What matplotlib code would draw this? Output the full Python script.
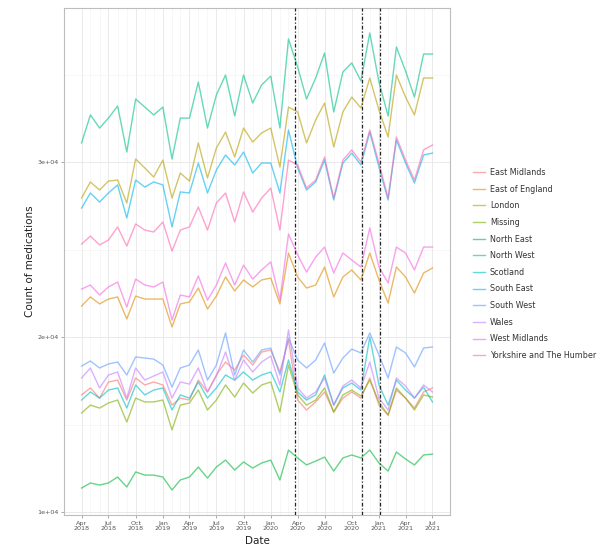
import matplotlib
matplotlib.use("Agg")
import matplotlib.pyplot as plt
import pandas as pd

dates = pd.date_range("2018-04-01", periods=40, freq="MS")

regions = ["East Midlands", "East of England", "London", "Missing", "North East",
           "North West", "Scotland", "South East", "South West", "Wales",
           "West Midlands", "Yorkshire and The Humber"]
colors = ["#F8766D", "#DE8C00", "#B79F00", "#7CAE00", "#00BA38", "#00C08B",
          "#00BFC4", "#00B4F0", "#619CFF", "#C77CFF", "#F564E3", "#FF64B0"]

north_west = [31090, 32690, 31940, 32510, 33200, 30570, 33600, 33140, 32690, 33140,
              30170, 32510, 32510, 34570, 31940, 33830, 34970, 32630, 34970, 33370,
              34400, 34910, 31940, 37030, 35430, 33600, 34800, 36230, 32860, 35140,
              35660, 34630, 37370, 34570, 32630, 36570, 35200, 33710, 36170, 36170]
london = [27940, 28860, 28400, 28910, 28970, 27660, 30170, 29660, 29140, 30110,
          27940, 29370, 28910, 31090, 29090, 30800, 31710, 30290, 31940, 31140,
          31660, 31940, 29710, 33140, 32860, 31090, 32400, 33370, 30860, 32860,
          33710, 33090, 34800, 32970, 31430, 34970, 33710, 32690, 34800, 34800]
south_east = [27370, 28230, 27710, 28230, 28690, 26800, 28970, 28570, 28860, 28690,
              26290, 28290, 28230, 29940, 28230, 29540, 30400, 29830, 30570, 29370,
              29940, 29940, 28230, 31830, 29660, 28400, 28860, 30110, 27830, 29940,
              30510, 29830, 31710, 29710, 27830, 31260, 29940, 28800, 30400, 30510]
yorkshire = [25310, 25770, 25260, 25540, 26290, 25200, 26460, 26110, 26000, 26570,
             24910, 26110, 26290, 27430, 26110, 27660, 28230, 26570, 28290, 27140,
             27940, 28510, 26110, 30110, 29830, 28510, 28970, 30290, 27940, 30110,
             30690, 30000, 31830, 29940, 27940, 31430, 30110, 28970, 30690, 30970]
west_midlands = [22740, 22970, 22400, 22860, 23140, 21710, 23310, 22970, 22860, 23140,
                 20970, 22400, 22290, 23490, 22110, 22970, 24230, 22970, 24110, 23310,
                 23830, 24290, 22110, 25890, 24690, 23710, 24570, 25140, 23660, 24800,
                 24400, 24000, 26230, 24000, 23090, 25140, 24800, 23830, 25140, 25140]
east_of_england = [21770, 22290, 21890, 22170, 22290, 21030, 22340, 22170, 22170, 22170,
                   20570, 21890, 22000, 22800, 21600, 22340, 23430, 22630, 23260, 22860,
                   23260, 23370, 21890, 24800, 23430, 22800, 22970, 24000, 22290, 23430,
                   23830, 23260, 24800, 23260, 21940, 24000, 23430, 22510, 23660, 23940]
south_west = [18340, 18630, 18230, 18460, 18570, 17830, 18860, 18800, 18740, 18400,
              17140, 18230, 18400, 19260, 17540, 18400, 20230, 17830, 19260, 18570,
              19260, 19370, 17830, 19940, 18690, 18230, 18690, 19660, 17940, 18800,
              19310, 19090, 20230, 18970, 17660, 19430, 19090, 18290, 19370, 19430]
wales = [17660, 18230, 17090, 17830, 18000, 16510, 18230, 17540, 17770, 18000,
         16510, 17430, 17310, 18230, 16860, 17770, 19140, 17540, 18690, 18000,
         18570, 18910, 17260, 20400, 17090, 16510, 16860, 17660, 16110, 17200,
         17540, 17090, 18570, 16510, 15830, 17660, 17200, 16510, 17260, 16860]
east_midlands = [16690, 17090, 16510, 17430, 17540, 16400, 17660, 17260, 17430, 17260,
                 16110, 16510, 16400, 17540, 16860, 17830, 18570, 18110, 18970, 18400,
                 19140, 19260, 18000, 19830, 16400, 15830, 16290, 16860, 15710, 16510,
                 16860, 16510, 17660, 16110, 15540, 16970, 16510, 15940, 16860, 17090]
scotland = [16400, 16860, 16510, 16970, 17090, 15940, 17260, 16690, 16970, 17090,
            15830, 16690, 16510, 17430, 16510, 17090, 17830, 17540, 18000, 17540,
            17830, 18000, 16860, 18690, 16860, 16400, 16690, 17830, 16110, 17090,
            17370, 16970, 20000, 17260, 16110, 17540, 16970, 16510, 17140, 16290]
missing = [15660, 16110, 15940, 16230, 16400, 15140, 16510, 16290, 16290, 16400,
           14690, 16110, 16230, 16970, 15830, 16400, 17260, 16570, 17370, 16800,
           17260, 17430, 15710, 18400, 16690, 16110, 16400, 17090, 15710, 16690,
           16970, 16630, 17540, 16290, 15540, 17090, 16510, 15830, 16690, 16570]
north_east = [11370, 11660, 11540, 11660, 12000, 11430, 12290, 12110, 12110, 12000,
              11260, 11830, 12000, 12570, 11940, 12570, 12970, 12400, 12860, 12510,
              12800, 12970, 11830, 13540, 13090, 12690, 12910, 13140, 12340, 13090,
              13260, 13090, 13540, 12800, 12340, 13430, 13030, 12690, 13260, 13310]

series = {
    "East Midlands": east_midlands, "East of England": east_of_england,
    "London": london, "Missing": missing, "North East": north_east,
    "North West": north_west, "Scotland": scotland, "South East": south_east,
    "South West": south_west, "Wales": wales, "West Midlands": west_midlands,
    "Yorkshire and The Humber": yorkshire,
}

lockdowns = pd.to_datetime(["2020-03-23", "2020-11-05", "2021-01-06"])
y_ticks = [10000, 20000, 30000]
y_labels = ["1e+04", "2e+04", "3e+04"]

fig = plt.figure(figsize=(6.15, 5.5), dpi=100)
ax = fig.add_axes([64/615, 1-515/550, (450-64)/615, (515-8)/550])

handles = []
for name, col in zip(regions, colors):
    h, = ax.plot(dates, series[name], color=col, lw=1.0, alpha=0.6, label=name)
    handles.append(h)

for d in lockdowns:
    ax.axvline(d, color="#222222", lw=0.9, linestyle=(0, (3, 1.6, 1, 1.6)), zorder=5)

ax.set_ylim(9830, 38800)
ax.set_yticks(y_ticks)
ax.set_yticklabels(y_labels)
ax.set_yticks([15000, 25000, 35000], minor=True)

xt = pd.date_range("2018-04-01", "2021-07-01", freq="3MS")
ax.set_xticks(xt)
ax.set_xticklabels([d.strftime("%b\n%Y") for d in xt])
ax.set_xticks(dates, minor=True)

ax.grid(True, which="major", color="#e6e6e6", lw=0.6)
ax.grid(True, which="minor", color="#f2f2f2", lw=0.4)
ax.set_axisbelow(True)
for s in ax.spines.values():
    s.set_color("#bdbdbd")
    s.set_linewidth(0.8)
ax.tick_params(which="major", length=2.5, width=0.5, color="#888888",
               labelsize=4.6, labelcolor="#555555", pad=1.5)
ax.tick_params(which="minor", length=0)
ax.set_xlabel("Date", fontsize=7.5, color="#222222", labelpad=3)
ax.set_ylabel("Count of medications", fontsize=7.5, color="#222222", labelpad=1.5)

leg = fig.legend(handles=handles, loc="center left", bbox_to_anchor=(473/615, 1-264/550),
                 frameon=False, fontsize=5.8, handlelength=1.5, handletextpad=0.6,
                 labelspacing=0.95, borderpad=0, borderaxespad=0)
for t in leg.get_texts():
    t.set_color("#333333")

fig.savefig("out.png", dpi=100)
